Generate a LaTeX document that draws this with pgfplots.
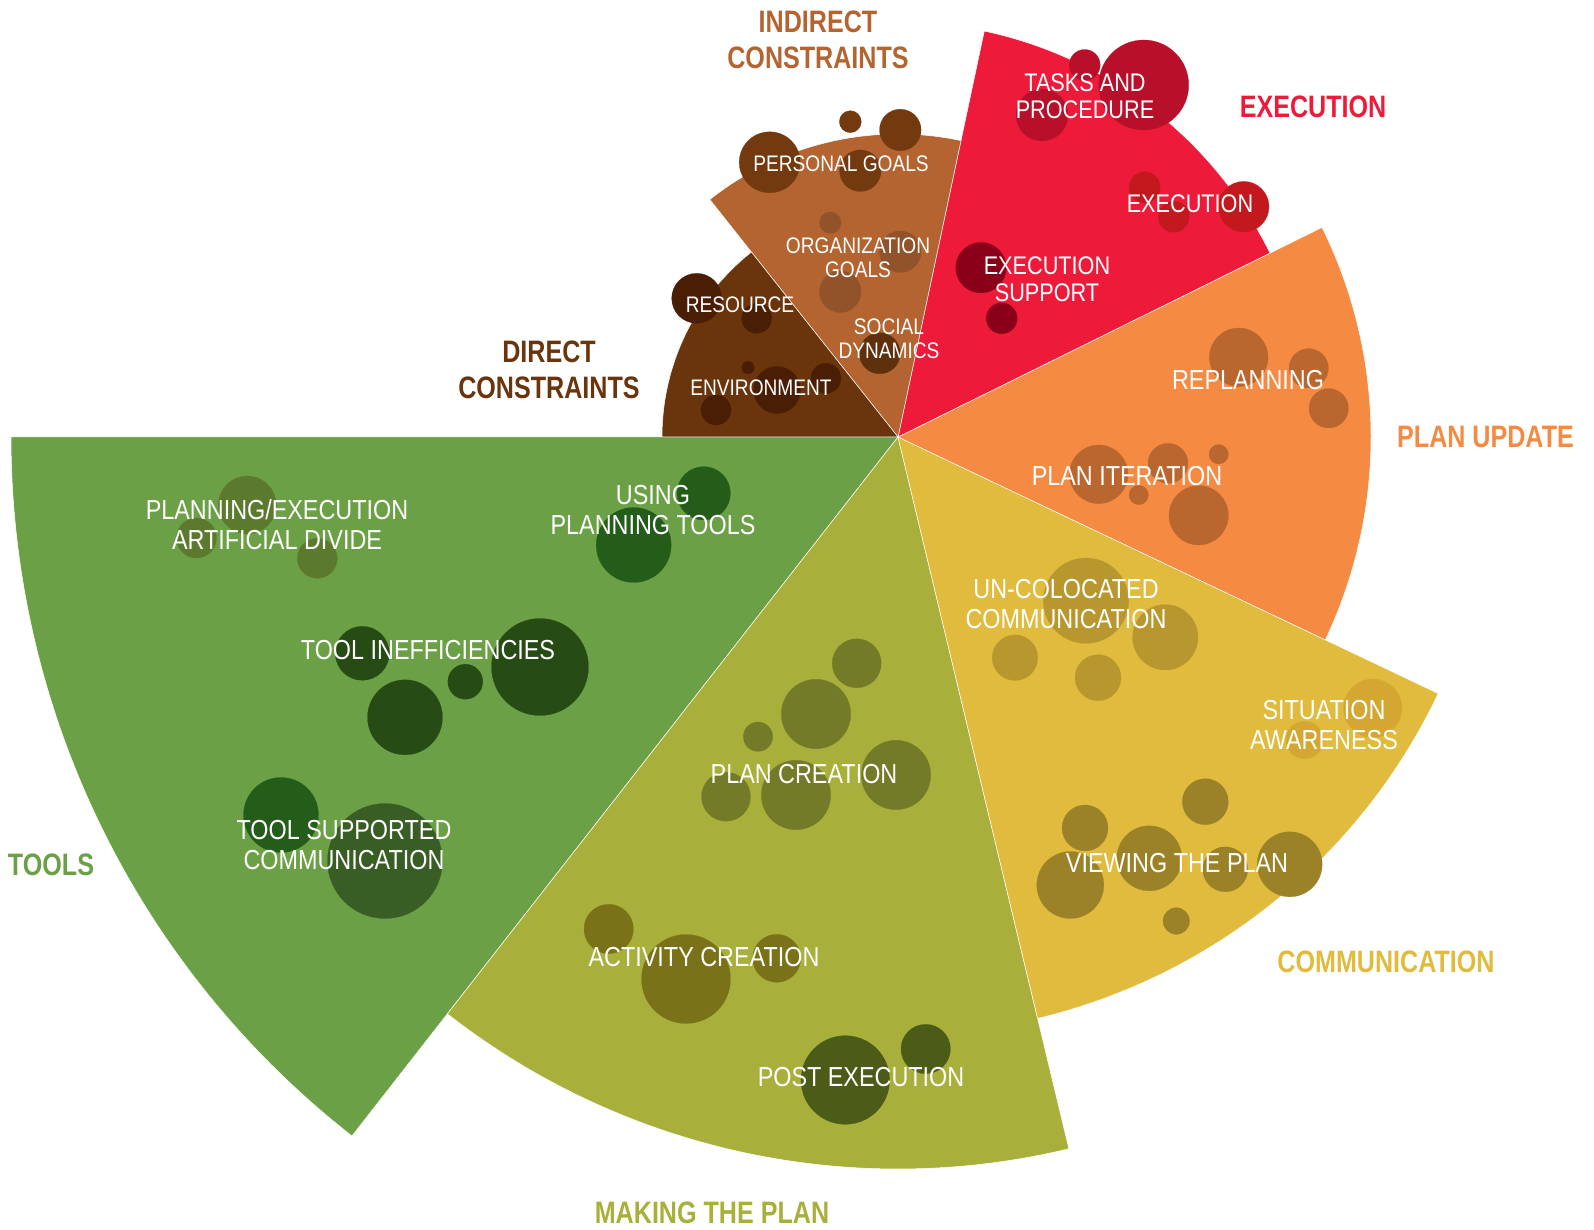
\documentclass[border=0pt]{standalone}
\usepackage{pgfplots}
\pgfplotsset{compat=1.18}
\usepackage{fontspec}
\setmainfont{Liberation Sans}
\newfontfamily\labfont{Liberation Sans}[FakeStretch=0.85]
\newfontfamily\catfont{Liberation Sans}[FakeStretch=0.81]

\definecolor{cTools}{HTML}{6CA046}
\definecolor{cMake}{HTML}{A8AF3A}
\definecolor{cComm}{HTML}{E0BB3E}
\definecolor{cPlan}{HTML}{F58A42}
\definecolor{cExec}{HTML}{ED1B39}
\definecolor{cInd}{HTML}{B46430}
\definecolor{cDir}{HTML}{6A340C}

\definecolor{bPE}{HTML}{5C7A2E}
\definecolor{bIneff}{HTML}{274B15}
\definecolor{bUsing}{HTML}{245C1A}
\definecolor{bTSC}{HTML}{395E25}
\definecolor{bPlanCr}{HTML}{737A28}
\definecolor{bAct}{HTML}{7A7219}
\definecolor{bPost}{HTML}{4A5C17}
\definecolor{bUncol}{HTML}{B8982E}
\definecolor{bSit}{HTML}{D4A632}
\definecolor{bView}{HTML}{9B8228}
\definecolor{bPlan}{HTML}{B9662F}
\definecolor{bTask}{HTML}{B8102A}
\definecolor{bExe}{HTML}{C4181F}
\definecolor{bSup}{HTML}{8A0018}
\definecolor{bPers}{HTML}{733A10}
\definecolor{bOrg}{HTML}{92522A}
\definecolor{bSoc}{HTML}{5E300C}
\definecolor{bDir}{HTML}{4A1E04}

\pgfplotsset{bub/.style={scatter, only marks, mark=*,
  mark options={line width=0.2pt},
  scatter/use mapped color={draw=#1, fill=#1},
  visualization depends on={\thisrow{r}\as\rad},
  scatter/@pre marker code/.append style={/tikz/mark size=\rad}},
  sector/.style={draw=white, line width=0.5pt, fill=#1, samples=90}}

\tikzset{
  lab/.style={font=\labfont\fontsize{27.5}{30}\selectfont, text=white, align=center, inner sep=0pt},
  labx/.style={font=\labfont\fontsize{25.5}{27}\selectfont, text=white, align=center, inner sep=0pt},
  labs/.style={font=\labfont\fontsize{22.5}{24.5}\selectfont, text=white, align=center, inner sep=0pt},
  cat/.style={font=\catfont\bfseries\fontsize{31}{36}\selectfont, text=#1, align=center, inner sep=0pt}
}

\begin{document}
\begin{tikzpicture}
\begin{axis}[x=1pt, y=1pt, xmin=-898, xmax=696, ymin=-792, ymax=437,
  hide axis, clip=false, set layers]

% invisible frame fixing the picture extent
\addplot[draw=none, mark=none, forget plot] coordinates {(-898,-792) (696,437)};

% sectors: radius, angular span
\addplot[sector=cTools, domain=180:232] ({887*cos(x)},{887*sin(x)}) -- (axis cs:0,0) -- cycle;
\addplot[sector=cMake, domain=232:283.5] ({732*cos(x)},{732*sin(x)}) -- (axis cs:0,0) -- cycle;
\addplot[sector=cComm, domain=283.5:334.6] ({598*cos(x)},{598*sin(x)}) -- (axis cs:0,0) -- cycle;
\addplot[sector=cPlan, domain=-25.4:26.3] ({473*cos(x)},{473*sin(x)}) -- (axis cs:0,0) -- cycle;
\addplot[sector=cExec, domain=26.3:78] ({415*cos(x)},{415*sin(x)}) -- (axis cs:0,0) -- cycle;
\addplot[sector=cInd, domain=78:128.4] ({303*cos(x)},{303*sin(x)}) -- (axis cs:0,0) -- cycle;
\addplot[sector=cDir, domain=128.4:180] ({236*cos(x)},{236*sin(x)}) -- (axis cs:0,0) -- cycle;

% bubbles
\addplot[bub=bPE] table {
x y r
-650.7 -68 29
-701.5 -101 20
-580.7 -121.3 20
};
\addplot[bub=bIneff] table {
x y r
-535.7 -216.3 27
-493 -280.3 37.5
-432.7 -244.7 17.5
-358 -230 48.5
};
\addplot[bub=bUsing] table {
x y r
-194.3 -56.3 26.7
-264.3 -108 37.5
-617 -378 37.5
};
\addplot[bub=bTSC] table {
x y r
-513 -424 57.5
};
\addplot[bub=bPlanCr] table {
x y r
-41.3 -226.3 24.5
-82 -277 34.7
-140 -299.7 14.7
-2 -338 34.7
-172 -359.7 24.5
-102 -358 34.7
};
\addplot[bub=bAct] table {
x y r
-289.3 -492 24.7
-212 -542 44.5
-121.3 -521.3 24
};
\addplot[bub=bPost] table {
x y r
-52.7 -643 44.3
27.7 -612 24.7
};
\addplot[bub=bUncol] table {
x y r
188 -163.7 42.7
267.3 -200.3 32.7
200 -240.7 23
117 -220.7 22.8
};
\addplot[bub=bSit] table {
x y r
474.7 -271.3 29.2
406.7 -303 18.8
};
\addplot[bub=bView] table {
x y r
307.3 -364.7 23
187 -391 23
172.3 -448 33.5
251.3 -421.3 32.5
327.3 -432.3 22.5
391.7 -427.3 32.5
278.3 -484 13.3
};
\addplot[bub=bPlan] table {
x y r
340.7 79.7 29.3
410.7 68.7 19.7
430.7 28.7 19.7
200.7 -37.3 29.3
270 -26.3 20
320.7 -17.3 9.7
240.7 -58 9.7
300.7 -78.3 29.7
};
\addplot[bub=bTask] table {
x y r
144 322 26
245.7 352 45
186.7 372 15.5
};
\addplot[bub=bExe] table {
x y r
246.7 249.7 15.5
275.7 220.3 15.5
345.7 230.3 25.3
};
\addplot[bub=bSup] table {
x y r
83 169.3 25.3
103.7 118.7 15.5
};
\addplot[bub=bPers] table {
x y r
-128.3 274.7 30.5
-47.7 315.3 11
2.3 307 20.8
-37.7 266.3 20.8
};
\addplot[bub=bOrg] table {
x y r
-67.7 214.3 10.8
2.3 185.3 20.8
-57.7 145.3 20.8
};
\addplot[bub=bSoc] table {
x y r
-18.3 83.7 20.5
};
\addplot[bub=bDir] table {
x y r
-201.3 138.7 25
-141.3 118.7 15
-150 69.3 6.3
-121 47 23.5
-72 58.7 15
-182 27 15
};

\begin{pgfonlayer}{axis foreground}
% inner labels
\node[lab] at (axis cs:-621,-88) {PLANNING/EXECUTION\\ARTIFICIAL DIVIDE};
\node[lab] at (axis cs:-245,-73) {USING\\PLANNING TOOLS};
\node[lab] at (axis cs:-470,-213) {TOOL INEFFICIENCIES};
\node[lab] at (axis cs:-554,-408) {TOOL SUPPORTED\\COMMUNICATION};
\node[lab] at (axis cs:-94,-337) {PLAN CREATION};
\node[lab] at (axis cs:-194,-520) {ACTIVITY CREATION};
\node[lab] at (axis cs:-37,-640) {POST EXECUTION};
\node[lab] at (axis cs:168,-167) {UN-COLOCATED\\COMMUNICATION};
\node[lab] at (axis cs:426,-288) {SITUATION\\AWARENESS};
\node[lab] at (axis cs:279,-426) {VIEWING THE PLAN};
\node[lab] at (axis cs:350,57) {REPLANNING};
\node[lab] at (axis cs:229,-39) {PLAN ITERATION};
\node[labx] at (axis cs:187,341) {TASKS AND\\PROCEDURE};
\node[labx] at (axis cs:292,233) {EXECUTION};
\node[labx] at (axis cs:149,158) {EXECUTION\\SUPPORT};
\node[labs] at (axis cs:-57,273) {PERSONAL GOALS};
\node[labs] at (axis cs:-40,179) {ORGANIZATION\\GOALS};
\node[labs] at (axis cs:-9,98) {SOCIAL\\DYNAMICS};
\node[labs] at (axis cs:-158,132) {RESOURCE};
\node[labs] at (axis cs:-137,49) {ENVIRONMENT};

% category labels
\node[cat=cInd] at (axis cs:-80,397.5) {INDIRECT\\CONSTRAINTS};
\node[cat=cExec] at (axis cs:415,329.7) {EXECUTION};
\node[cat=cPlan] at (axis cs:587.5,-0.3) {PLAN UPDATE};
\node[cat=cComm] at (axis cs:488,-525) {COMMUNICATION};
\node[cat=cMake] at (axis cs:-186,-776) {MAKING THE PLAN};
\node[cat=cTools] at (axis cs:-847,-428) {TOOLS};
\node[cat=cDir] at (axis cs:-349,67) {DIRECT\\CONSTRAINTS};
\end{pgfonlayer}
\end{axis}
\end{tikzpicture}
\end{document}
